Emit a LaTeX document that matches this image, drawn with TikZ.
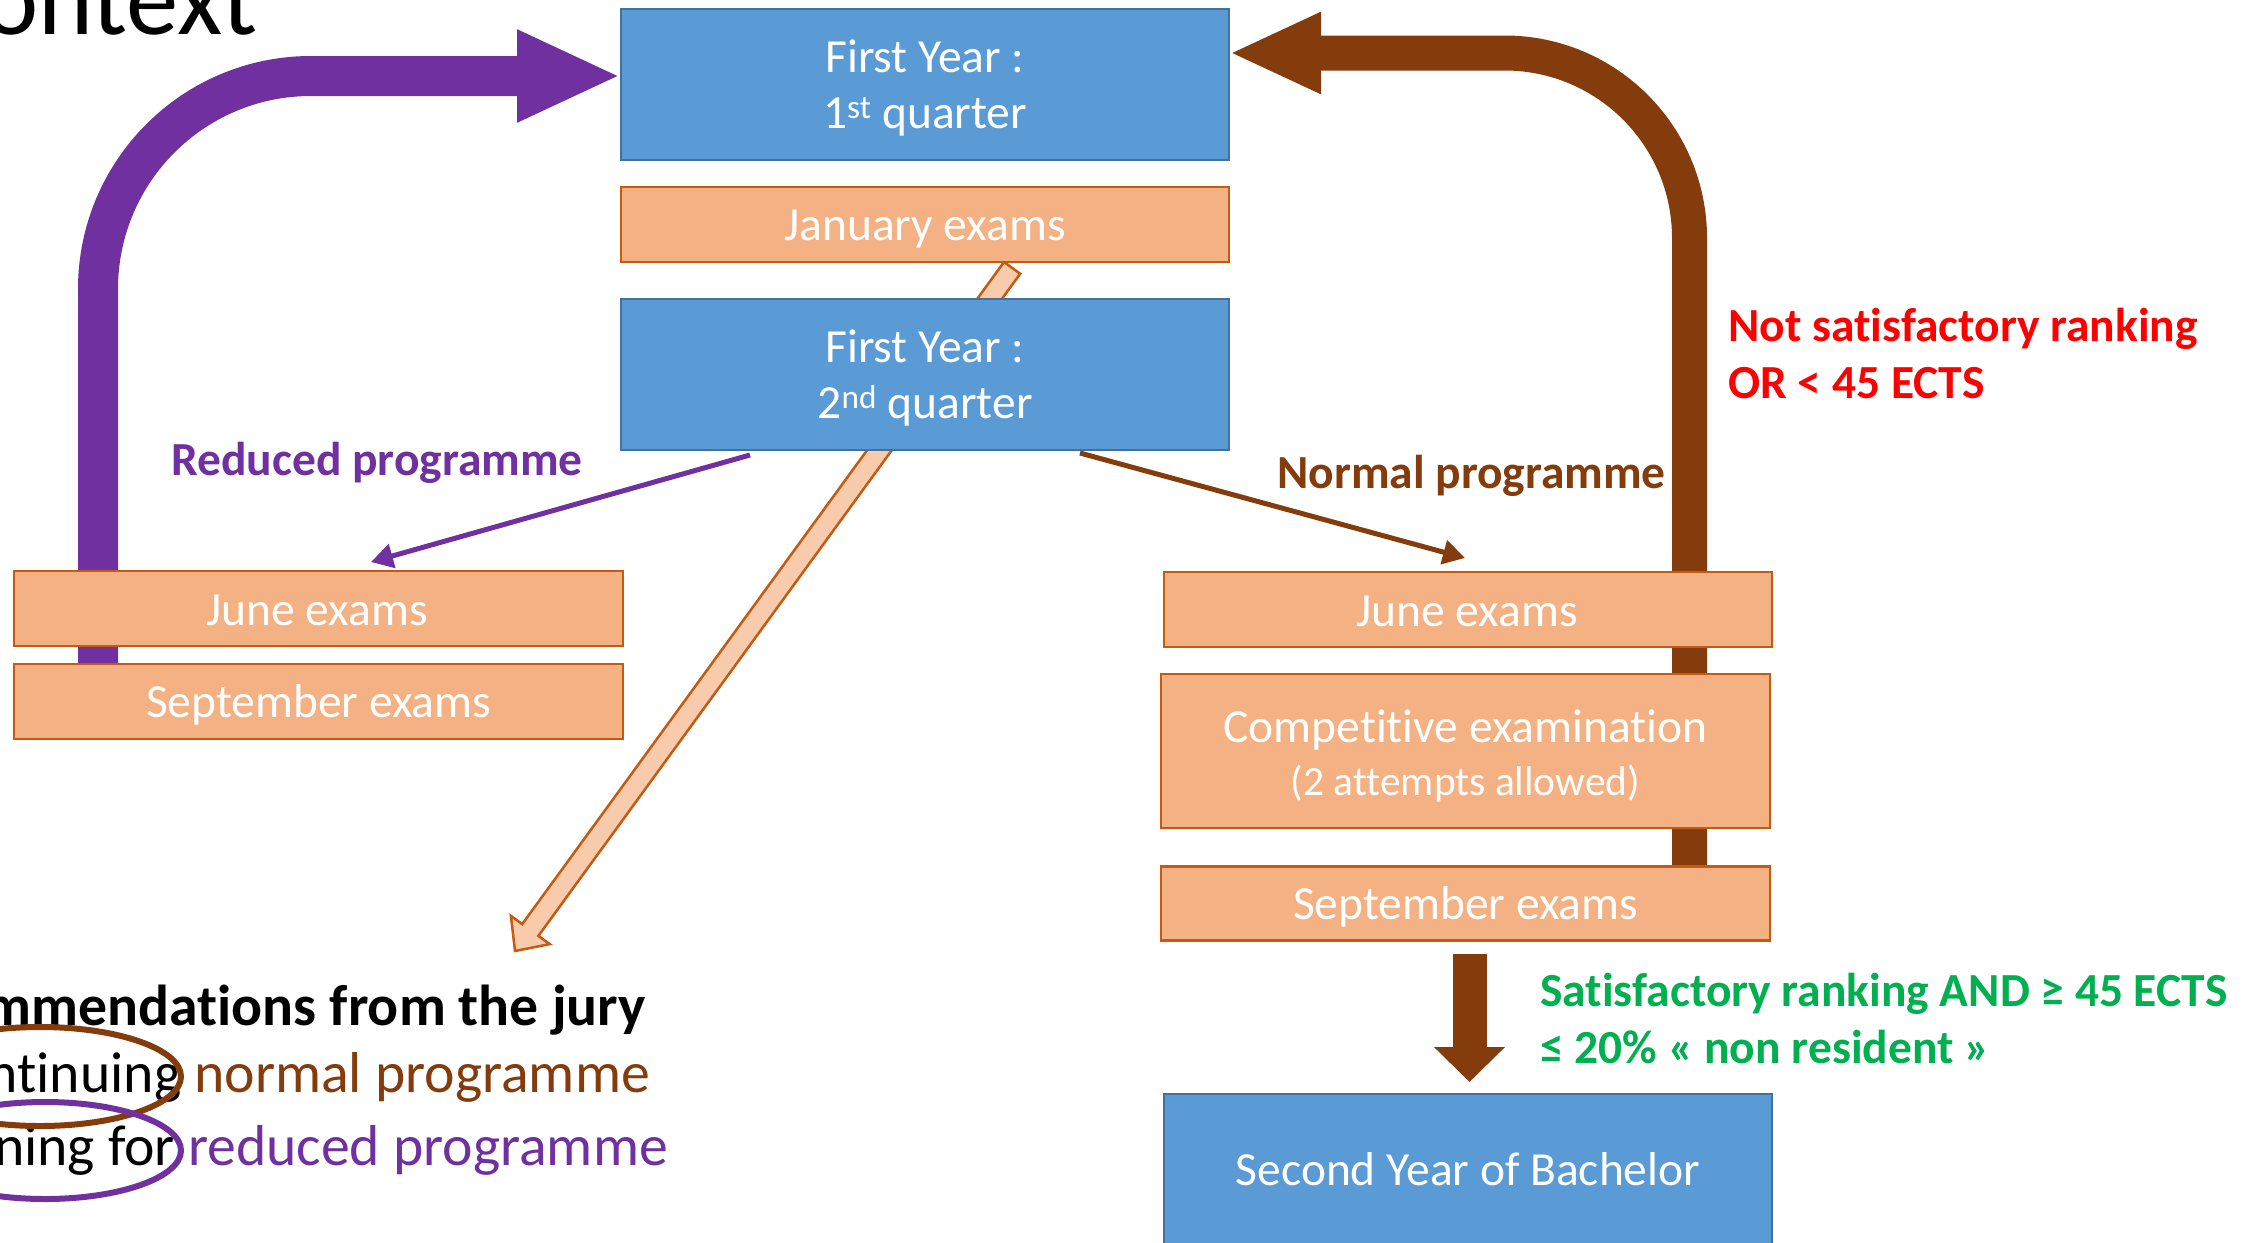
\documentclass[tikz,border=0pt]{standalone}
\usepackage{fontspec}
\setmainfont{Carlito}[Ligatures={NoCommon,NoContextual},RawFeature={-liga;-clig;-dlig}]
\usetikzlibrary{arrows.meta,calc}
\pgfdeclarelayer{bg}
\pgfsetlayers{bg,main}
\definecolor{bfill}{HTML}{5B9BD5}
\definecolor{bline}{HTML}{41719C}
\definecolor{ofill}{HTML}{F4B183}
\definecolor{oline}{HTML}{C55A11}
\definecolor{lorange}{HTML}{F8CBAD}
\definecolor{purp}{HTML}{7030A0}
\definecolor{brn}{HTML}{843C0C}
\definecolor{redt}{HTML}{FF0000}
\definecolor{greent}{HTML}{00B050}
\begin{document}
\begin{tikzpicture}[x=1pt,y=-1pt,
  bluebox/.style={draw=bline, fill=bfill, line width=2.5pt, inner sep=0pt, outer sep=0pt},
  orbox/.style={draw=oline, fill=ofill, line width=2.5pt, inner sep=0pt, outer sep=0pt},
  boxtext/.style={text=white, inner sep=0pt, anchor=base, font=\fontsize{47.5}{57}\selectfont},
  smalltext/.style={text=white, inner sep=0pt, anchor=base, font=\fontsize{41.5}{50}\selectfont},
  lbl/.style={inner sep=0pt, font=\fontsize{47.5}{57}\selectfont\bfseries},
  bigtext/.style={inner sep=0pt, anchor=base east, font=\fontsize{57.7}{70}\selectfont},
  thinarrow/.style={line width=5pt, -{Triangle[length=22pt,width=24pt]}}
]
\useasboundingbox (0,0) rectangle (2261,1242);
\begin{pgfonlayer}{bg}
  \fill[white] (0,0) rectangle (2261,1242);
\end{pgfonlayer}
\clip (0,0) rectangle (2261,1242);

% title fragment
\node[inner sep=0pt, anchor=base east, font=\fontsize{104.6}{125}\selectfont] (title) at (258,34) {ontext};

% boxes
\node[bluebox, minimum width=608pt, minimum height=151pt] (q1) at (925,84.5) {};
\node[boxtext] (q1a) at (925,72) {First Year :};
\node[boxtext] (q1b) at (925,128) {1\textsuperscript{st} quarter};

\node[orbox, minimum width=608pt, minimum height=75pt] (jan) at (925,224.5) {};
\node[boxtext] (jant) at (925,240.5) {January exams};

\node[bluebox, minimum width=608pt, minimum height=151pt] (q2) at (925,374.5) {};
\node[boxtext] (q2a) at (925,362) {First Year :};
\node[boxtext] (q2b) at (925,418) {2\textsuperscript{nd} quarter};

\node[orbox, minimum width=609pt, minimum height=75pt] (june1) at (318.5,608.5) {};
\node[boxtext] (june1t) at (317,625) {June exams};
\node[orbox, minimum width=609pt, minimum height=75pt] (sept1) at (318.5,701.5) {};
\node[boxtext] (sept1t) at (318.5,717) {September exams};

\node[orbox, minimum width=608pt, minimum height=75pt] (june2) at (1468,609.5) {};
\node[boxtext] (june2t) at (1467,626) {June exams};
\node[orbox, minimum width=609pt, minimum height=154pt] (comp) at (1465.5,751) {};
\node[boxtext] (compa) at (1465.5,742) {Competitive examination};
\node[smalltext] (compb) at (1465.5,795) {(2 attempts allowed)};
\node[orbox, minimum width=609pt, minimum height=74pt] (sept2) at (1465.5,903.5) {};
\node[boxtext] (sept2t) at (1465.5,919) {September exams};

\node[bluebox, minimum width=608pt, minimum height=200pt] (second) at (1468,1194) {};
\node[boxtext] (secondt) at (1468,1185) {Second Year of Bachelor};

% labels
\node[lbl, text=purp, anchor=base east] (redl) at (583,475) {Reduced programme};
\node[lbl, text=brn, anchor=base east] (norml) at (1666,488) {Normal programme};
\node[lbl, text=redt, anchor=base west] (ns1) at (1728,341) {Not satisfactory ranking};
\node[lbl, text=redt, anchor=base west] (ns2) at (1728,398) {OR < 45 ECTS};
\node[lbl, text=greent, anchor=base west] (s1) at (1540,1006) {Satisfactory ranking AND ≥ 45 ECTS};
\node[lbl, text=greent, anchor=base west] (s2) at (1540,1063) {≤ 20\% « non resident »};

% bottom-left text
\node[bigtext, font=\fontsize{57.7}{70}\selectfont\bfseries] (jury) at (646,1025) {mmendations from the jury};
\node[bigtext] (opt1) at (650,1092) {ntinuing {\color{brn}normal programme}};
\node[bigtext] (opt2) at (668,1165) {ning for {\color{purp}reduced programme}};
\draw[brn, line width=6pt] (40,1076.5) ellipse [x radius=141, y radius=49.5];
\draw[purp, line width=6pt] (45,1150.5) ellipse [x radius=136, y radius=48.5];

% thin arrows
\draw[purp, thinarrow] ($(q2.south west)+(129,5)$) -- ($(june1.north)+(52.5,-9)$);
\draw[brn, thinarrow] ($(q2.south east)+(-149,3)$) -- ($(june2.north)+(-3,-14)$);

% down arrow to second year
\draw[brn, line width=34pt, -{Triangle[length=35pt,width=69pt]}]
  ($(second.north |- sept2.south)+(1.5,13)$) -- ($(second.north)+(1.5,-12)$);

\begin{pgfonlayer}{bg}
  % big purple return arrow
  \coordinate (pstart) at (98,700);
  \draw[purp, line width=40pt, rounded corners=213pt, -{Triangle[length=104pt,width=85pt]}]
    (pstart) |- ($(q1.west)+(0,-8.5)$);
  % big brown return arrow
  \coordinate (bstart) at (1689.5,920);
  \draw[brn, line width=35pt, rounded corners=185pt, -{Triangle[length=92pt,width=75pt]}]
    (bstart) |- ($(q1.east)+(0,-31.5)$);
  % light orange block arrow from January exams to the jury
  \coordinate (ot) at ($(jan.south)+(87.1,5.9)$);
  \coordinate (oh) at (515,951);
  \coordinate (hb) at ($(oh)!26pt!(ot)$);
  \coordinate (a1) at ($(ot)!10pt!90:(oh)$);
  \coordinate (a2) at ($(ot)!10pt!-90:(oh)$);
  \coordinate (b1) at ($(hb)!10pt!90:(oh)$);
  \coordinate (b2) at ($(hb)!10pt!-90:(oh)$);
  \coordinate (w1) at ($(hb)!24pt!90:(oh)$);
  \coordinate (w2) at ($(hb)!24pt!-90:(oh)$);
  \draw[oline, fill=lorange, line width=2.5pt] (a1) -- (b1) -- (w1) -- (oh) -- (w2) -- (b2) -- (a2) -- cycle;
\end{pgfonlayer}
\end{tikzpicture}
\end{document}
